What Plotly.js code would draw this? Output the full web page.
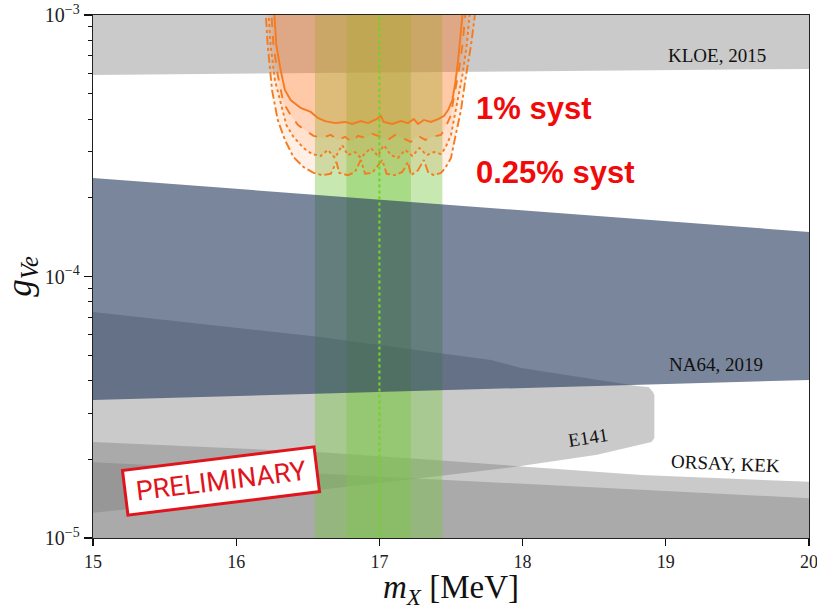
<!DOCTYPE html>
<html>
<head>
<meta charset="utf-8">
<script src="https://cdn.plot.ly/plotly-3.0.1.min.js"></script>
<style>html,body{margin:0;padding:0;background:#fff;}#chart{width:817px;height:610px;}</style>
</head>
<body>
<div id="chart"></div>
<script>
// ---- data ----
const FLOOR = 1e-6, CEIL = 2e-3;

// KLOE 2015: lower edge of excluded region
const kloeX = [15, 20];
const kloeLow = [5.90e-4, 6.22e-4];

// NA64 2019 band
const na64TopX = [15, 20];
const na64Top = [2.38e-4, 1.48e-4];
const na64LowX = [15, 18.8, 20];
const na64Low = [3.37e-5, 3.85e-5, 4.02e-5];

// E141 closed contour
const e141X = [15, 16.59, 17.36, 17.78, 17.99, 18.80, 18.88, 18.91, 18.92, 18.92, 18.90, 18.52, 17.94, 17.36, 16.59, 15];
const e141Y = [7.31e-5, 5.87e-5, 5.14e-5, 4.79e-5, 4.47e-5, 3.81e-5, 3.78e-5, 3.62e-5, 3.52e-5, 2.41e-5, 2.33e-5, 2.08e-5, 1.87e-5, 1.71e-5, 1.53e-5, 1.25e-5];

// ORSAY upper edge
const orsayX = [15, 16.59, 17.36, 17.94, 18.83, 20];
const orsayTop = [2.33e-5, 2.13e-5, 1.99e-5, 1.885e-5, 1.74e-5, 1.64e-5];

// KEK upper edge
const kekX = [15, 20];
const kekTop = [1.95e-5, 1.42e-5];

// X17 mass bands and central value [MeV]
const bandWide = [16.55, 17.44];
const bandNarrow = [16.77, 17.22];
const massX17 = 17.0;

// sensitivity curves
const solidX = [16.26,16.28,16.31,16.34,16.38,16.45,16.52,16.57,16.62,16.69,16.76,16.81,16.87,16.92,16.98,17.01,17.03,17.09,17.15,17.20,17.24,17.27,17.31,17.36,17.41,17.45,17.48,17.51,17.53,17.55,17.57,17.59];
const solidY = [1.141e-3,7.68e-4,6.16e-4,5.17e-4,4.73e-4,4.41e-4,4.26e-4,4.04e-4,3.93e-4,3.86e-4,3.90e-4,3.83e-4,3.93e-4,3.86e-4,4.00e-4,4.11e-4,3.90e-4,3.83e-4,3.93e-4,3.86e-4,4.00e-4,3.83e-4,3.97e-4,3.90e-4,4.00e-4,4.11e-4,4.33e-4,4.73e-4,5.50e-4,6.73e-4,8.76e-4,1.141e-3];

const dashedX = [16.24,16.26,16.29,16.33,16.38,16.43,16.48,16.54,16.60,16.66,16.71,16.76,16.81,16.85,16.90,16.95,17.01,17.06,17.11,17.16,17.22,17.27,17.32,17.37,17.43,17.46,17.50,17.52,17.55,17.58,17.61];
const dashedY = [1.141e-3,7.68e-4,5.90e-4,4.61e-4,4.15e-4,3.80e-4,3.63e-4,3.45e-4,3.39e-4,3.48e-4,3.33e-4,3.42e-4,3.27e-4,3.45e-4,3.39e-4,3.51e-4,3.42e-4,3.33e-4,3.48e-4,3.39e-4,3.27e-4,3.45e-4,3.33e-4,3.42e-4,3.48e-4,3.70e-4,4.15e-4,4.86e-4,5.90e-4,7.68e-4,1.141e-3];

const dottedX = [16.22,16.24,16.27,16.31,16.35,16.40,16.47,16.53,16.59,16.64,16.69,16.74,16.78,16.83,16.87,16.94,16.99,17.03,17.08,17.13,17.18,17.23,17.28,17.33,17.38,17.43,17.46,17.50,17.52,17.55,17.58,17.61,17.64];
const dottedY = [1.141e-3,7.68e-4,5.64e-4,4.61e-4,3.80e-4,3.42e-4,3.10e-4,2.94e-4,2.89e-4,3.05e-4,2.84e-4,3.18e-4,2.91e-4,2.99e-4,2.84e-4,3.10e-4,2.89e-4,3.18e-4,2.91e-4,2.84e-4,3.05e-4,2.89e-4,3.10e-4,2.91e-4,2.99e-4,2.94e-4,3.10e-4,3.48e-4,3.97e-4,4.73e-4,5.90e-4,7.68e-4,1.141e-3];

const dashdotX = [16.20,16.22,16.25,16.29,16.34,16.40,16.47,16.54,16.60,16.66,16.70,16.72,16.78,16.83,16.87,16.90,16.95,16.99,17.02,17.05,17.11,17.16,17.20,17.22,17.27,17.31,17.34,17.38,17.43,17.46,17.50,17.53,17.57,17.60,17.64,17.68];
const dashdotY = [1.141e-3,7.68e-4,5.17e-4,3.97e-4,3.33e-4,2.86e-4,2.62e-4,2.49e-4,2.44e-4,2.47e-4,2.74e-4,2.49e-4,2.44e-4,2.51e-4,2.79e-4,2.47e-4,2.49e-4,2.67e-4,2.79e-4,2.47e-4,2.44e-4,2.51e-4,2.74e-4,2.44e-4,2.55e-4,2.79e-4,2.51e-4,2.44e-4,2.49e-4,2.60e-4,2.84e-4,3.42e-4,4.33e-4,5.64e-4,7.68e-4,1.141e-3];

// axis ticks
const xTicks = [15, 16, 17, 18, 19, 20];
const yTicks = [1e-5, 1e-4, 1e-3];
const yTickText = ['10<sup>\u22125</sup>', '10<sup>\u22124</sup>', '10<sup>\u22123</sup>'];
const yMinorTicks = [2e-5,3e-5,4e-5,5e-5,6e-5,7e-5,8e-5,9e-5,2e-4,3e-4,4e-4,5e-4,6e-4,7e-4,8e-4,9e-4];

// ---- styles ----
const GRAY = 'rgba(122,122,122,0.40)';
const BLUE = 'rgba(33,53,90,0.60)';
const GREEN = 'rgba(124,200,72,0.42)';
const ORANGE_FILL = 'rgba(255,120,40,0.12)';
const ORANGE = '#f47b20';

function rev(a) { return a.slice().reverse(); }
function region(x, y, color) {
  return {x: x, y: y, type: 'scatter', mode: 'lines', fill: 'toself', fillcolor: color,
          line: {width: 0}, hoverinfo: 'skip', showlegend: false};
}
function band(lim, color) {
  return region([lim[0], lim[1], lim[1], lim[0]], [FLOOR, FLOOR, CEIL, CEIL], color);
}
function curve(x, y, dash) {
  return {x: x, y: y, type: 'scatter', mode: 'lines', fill: 'toself', fillcolor: ORANGE_FILL,
          line: {color: ORANGE, width: 1.9, dash: dash}, hoverinfo: 'skip', showlegend: false};
}

const traces = [
  region(kloeX.concat(rev(kloeX)), kloeLow.concat([CEIL, CEIL]), GRAY),
  region(e141X, e141Y, GRAY),
  region(orsayX.concat([20, 15]), orsayTop.concat([FLOOR, FLOOR]), GRAY),
  region(kekX.concat([20, 15]), kekTop.concat([FLOOR, FLOOR]), GRAY),
  band(bandWide, GREEN),
  band(bandNarrow, GREEN),
  region(na64TopX.concat(rev(na64LowX)), na64Top.concat(rev(na64Low)), BLUE),
  curve(dashdotX, dashdotY, 'dashdot'),
  curve(dottedX, dottedY, 'dot'),
  curve(dashedX, dashedY, 'dash'),
  curve(solidX, solidY, 'solid'),
  {x: [massX17, massX17], y: [FLOOR, CEIL], type: 'scatter', mode: 'lines',
   line: {color: '#74d12a', width: 2.2, dash: 'dot'}, hoverinfo: 'skip', showlegend: false}
];

const serif = 'Liberation Serif, Times New Roman, serif';
function label(text, x, ly, angle, size) {
  return {text: text, x: x, y: ly, xref: 'x', yref: 'y', showarrow: false, textangle: angle || 0,
          font: {family: serif, size: size || 19, color: '#111'}};
}

const layout = {
  width: 817, height: 610,
  margin: {l: 93, r: 8, t: 15, b: 72, pad: 0},
  paper_bgcolor: '#fff', plot_bgcolor: '#fff',
  showlegend: false,
  xaxis: {
    range: [15, 20], tickmode: 'array', tickvals: xTicks, ticks: 'outside', ticklen: 7, tickwidth: 1.2,
    tickcolor: '#111', linecolor: '#222', linewidth: 1.3, mirror: true, showgrid: false, zeroline: false,
    ticklabeloverflow: 'allow',
    tickfont: {family: serif, size: 18, color: '#222'},
    title: {text: '<i>m</i><sub><i>X</i></sub> [MeV]', font: {family: serif, size: 33, color: '#111'}, standoff: 6}
  },
  yaxis: {
    type: 'log', range: [-5, -3], tickmode: 'array', tickvals: yTicks, ticktext: yTickText,
    ticks: 'outside', ticklen: 8, tickwidth: 1.2, tickcolor: '#111',
    minor: {ticks: 'outside', ticklen: 4, tickwidth: 1, tickcolor: '#111', tickmode: 'array', tickvals: yMinorTicks, showgrid: false},
    linecolor: '#222', linewidth: 1.3, mirror: true, showgrid: false, zeroline: false,
    tickfont: {family: serif, size: 20, color: '#222'},
    title: {text: '<i>g</i><sub><i>Ve</i></sub>', font: {family: serif, size: 35, color: '#111'}, standoff: 6}
  },
  annotations: [
    label('KLOE, 2015', 19.36, -3.155, 0),
    label('NA64, 2019', 19.35, -4.338, 0),
    label('E141', 18.455, -4.614, -9),
    label('ORSAY, KEK', 19.42, -4.715, 2.5),
    {text: '<b>1% syst</b>', x: 18.077, y: -3.359, xref: 'x', yref: 'y', showarrow: false,
     font: {family: 'Liberation Sans, Arial, sans-serif', size: 31, color: '#f00a0a'}},
    {text: '<b>0.25% syst</b>', x: 18.231, y: -3.604, xref: 'x', yref: 'y', showarrow: false,
     font: {family: 'Liberation Sans, Arial, sans-serif', size: 31, color: '#f00a0a'}},
    {text: 'PRELIMINARY', x: 15.895, y: -4.782, xref: 'x', yref: 'y', showarrow: false, textangle: -7,
     font: {family: 'Liberation Sans Narrow, Arial Narrow, Roboto, sans-serif', size: 27, color: '#e0141c'},
     bgcolor: '#ffffff', bordercolor: '#e0141c', borderwidth: 3, borderpad: 3, width: 184, height: 36}
  ]
};

Plotly.newPlot('chart', traces, layout, {staticPlot: true, displayModeBar: false});
</script>
</body>
</html>
